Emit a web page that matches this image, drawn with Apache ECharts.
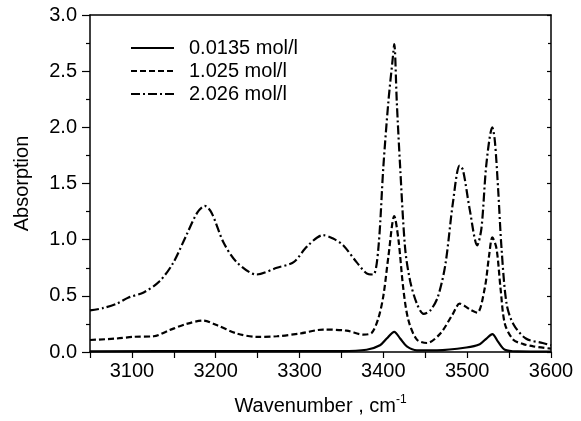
<!DOCTYPE html>
<html>
<head>
<meta charset="utf-8">
<script src="https://cdn.jsdelivr.net/npm/echarts@6/dist/echarts.min.js"></script>
<style>
html,body{margin:0;padding:0;background:#fff;}
#c{width:581px;height:421px;}
</style>
</head>
<body>
<div id="c"></div>
<script>
// Series names
const seriesNames = ['0.0135 mol/l', '1.025 mol/l', '2.026 mol/l'];

// 0.0135 mol/l (solid)
const w1 = [3050, 3200, 3350, 3380, 3396, 3404, 3413, 3420, 3428, 3440, 3464, 3499, 3515, 3523, 3530, 3537, 3545, 3560, 3600];
const a1 = [0.005, 0.008, 0.008, 0.02, 0.06, 0.12, 0.18, 0.12, 0.05, 0.015, 0.015, 0.04, 0.07, 0.12, 0.16, 0.09, 0.02, 0.005, 0.003];

// 1.025 mol/l (dashed)
const w2 = [3050, 3082, 3102, 3126, 3145, 3165, 3185, 3201, 3225, 3249, 3273, 3301, 3328, 3356, 3376, 3386, 3394, 3400, 3406, 3413, 3418, 3424, 3430, 3440, 3452, 3468, 3483, 3491, 3497, 3503, 3512, 3521, 3526, 3530, 3535, 3540, 3545, 3555, 3567, 3579, 3600];
const a2 = [0.107, 0.12, 0.135, 0.14, 0.195, 0.25, 0.28, 0.24, 0.165, 0.135, 0.14, 0.165, 0.20, 0.19, 0.155, 0.17, 0.30, 0.50, 0.85, 1.21, 1.00, 0.55, 0.28, 0.11, 0.08, 0.165, 0.34, 0.43, 0.41, 0.38, 0.35, 0.57, 0.85, 1.02, 0.92, 0.55, 0.25, 0.11, 0.07, 0.05, 0.03];

// 2.026 mol/l (dash-dot)
const w3 = [3050, 3065, 3082, 3096, 3114, 3133, 3149, 3165, 3178, 3187, 3195, 3209, 3225, 3249, 3273, 3293, 3309, 3328, 3340, 3352, 3368, 3380, 3388, 3394, 3400, 3406, 3411, 3413, 3416, 3420, 3426, 3432, 3440, 3448, 3456, 3465, 3474, 3483, 3491, 3495, 3503, 3512, 3517, 3523, 3530, 3533, 3537, 3541, 3547, 3555, 3570, 3590, 3600];
const a3 = [0.37, 0.39, 0.43, 0.485, 0.53, 0.63, 0.79, 1.04, 1.24, 1.30, 1.24, 0.98, 0.80, 0.69, 0.75, 0.80, 0.94, 1.04, 1.01, 0.95, 0.80, 0.70, 0.69, 0.92, 1.65, 2.23, 2.60, 2.74, 2.23, 1.65, 0.92, 0.63, 0.43, 0.34, 0.37, 0.49, 0.78, 1.33, 1.66, 1.62, 1.27, 0.95, 1.10, 1.68, 2.00, 1.88, 1.44, 0.92, 0.43, 0.25, 0.12, 0.08, 0.06];

// Axis ticks
const xMin = 3050, xMax = 3600, xStep = 50;
const yMin = 0, yMax = 3, yStep = 0.5;

const pairs = (w, a) => w.map((x, i) => [x, a[i]]);
const FONT = 'Liberation Sans, Arial, sans-serif';
const chart = echarts.init(document.getElementById('c'), null, {renderer: 'canvas'});

const lineCommon = {type: 'line', showSymbol: false, symbol: 'none', smooth: 0.3, z: 3};

chart.setOption({
  animation: false,
  backgroundColor: '#fff',
  textStyle: {fontFamily: FONT},
  grid: {left: 90, right: 30, top: 15, bottom: 62, show: false},
  legend: {
    orient: 'vertical', left: 125, top: 33,
    itemWidth: 43, itemHeight: 14, itemGap: 3,
    data: seriesNames,
    itemStyle: {color: 'rgba(0,0,0,0)', borderColor: 'rgba(0,0,0,0)', borderWidth: 0, opacity: 0},
    textStyle: {fontFamily: FONT, fontSize: 20, color: '#000', padding: [0, 0, 0, 10]}
  },
  xAxis: [{
    type: 'value', min: xMin, max: xMax, interval: xStep,
    name: '{a|Wavenumber , cm}{b|-1}', nameLocation: 'middle', nameGap: 42,
    nameTextStyle: {rich: {
      a: {fontFamily: FONT, fontSize: 20, color: '#000'},
      b: {fontFamily: FONT, fontSize: 12, color: '#000', verticalAlign: 'top', padding: [0, 0, 12, 0]}
    }},
    axisLine: {show: true, onZero: false, lineStyle: {color: '#000', width: 1.5}},
    axisTick: {show: true, inside: false, length: 6, lineStyle: {color: '#000', width: 1.2}},
    axisLabel: {fontFamily: FONT, fontSize: 20, color: '#000', margin: 9,
      formatter: v => (v % 100 === 0 ? String(v) : '')},
    splitLine: {show: false}
  }, {
    type: 'value', min: xMin, max: xMax, position: 'top',
    axisLine: {show: true, onZero: false, lineStyle: {color: '#000', width: 1.5}},
    axisTick: {show: false}, axisLabel: {show: false}, splitLine: {show: false}
  }],
  yAxis: [{
    type: 'value', min: yMin, max: yMax, interval: yStep,
    name: 'Absorption', nameLocation: 'middle', nameGap: 58,
    nameTextStyle: {fontFamily: FONT, fontSize: 20, color: '#000'},
    axisLine: {show: true, onZero: false, lineStyle: {color: '#000', width: 1.5}},
    axisTick: {show: true, inside: false, length: 8, lineStyle: {color: '#000', width: 1.2}},
    minorTick: {show: true, splitNumber: 2, length: 4, lineStyle: {color: '#000', width: 1.2}},
    axisLabel: {fontFamily: FONT, fontSize: 20, color: '#000', margin: 13,
      formatter: v => v.toFixed(1)},
    splitLine: {show: false}
  }, {
    type: 'value', min: yMin, max: yMax, interval: yStep, position: 'right',
    axisLine: {show: true, onZero: false, lineStyle: {color: '#000', width: 1.5}},
    axisTick: {show: true, inside: true, length: 4, lineStyle: {color: '#000', width: 1.2}},
    minorTick: {show: true, splitNumber: 2, length: 3, lineStyle: {color: '#000', width: 1.2}},
    axisLabel: {show: false}, splitLine: {show: false}
  }],
  series: [
    Object.assign({}, lineCommon, {name: seriesNames[0], data: pairs(w1, a1),
      lineStyle: {color: '#000', width: 2.2, type: 'solid'}, itemStyle: {color: '#000'}}),
    Object.assign({}, lineCommon, {name: seriesNames[1], data: pairs(w2, a2),
      lineStyle: {color: '#000', width: 2.2, type: [6, 3]}, itemStyle: {color: '#000'}}),
    Object.assign({}, lineCommon, {name: seriesNames[2], data: pairs(w3, a3),
      lineStyle: {color: '#000', width: 2.2, type: [9, 3, 2, 3]}, itemStyle: {color: '#000'}})
  ]
});
</script>
</body>
</html>
